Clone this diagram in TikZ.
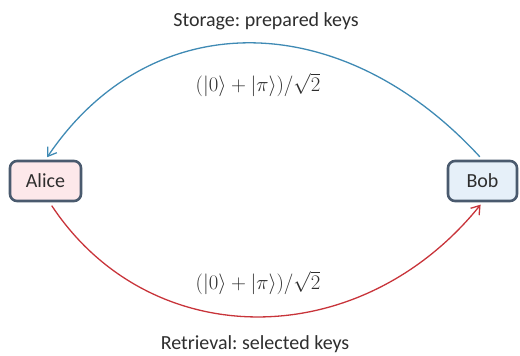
\documentclass[tikz,border=0pt]{standalone}
\usepackage{fontspec}
\setmainfont{Carlito}
\usetikzlibrary{arrows.meta}
\frenchspacing
\definecolor{boxline}{HTML}{4A5A6E}
\definecolor{alicefill}{HTML}{FDE8EA}
\definecolor{bobfill}{HTML}{E6F0F9}
\definecolor{storeblue}{HTML}{3F8AB4}
\definecolor{fetchred}{HTML}{C8343A}
\definecolor{txt}{HTML}{2E2E2E}
\begin{document}
\begin{tikzpicture}[x=1pt,y=-1pt,
  party/.style={draw=boxline, line width=2.6pt, rounded corners=7pt,
    minimum height=40pt, inner xsep=6pt, font=\fontsize{20}{22}\selectfont, text=txt},
  caption/.style={font=\fontsize{20}{22}\selectfont, text=txt},
  state/.style={font=\fontsize{19.5}{22}\selectfont, text=txt},
  link/.style={line width=1.3pt, -{Straight Barb[length=8pt,width=11pt,line width=1.3pt]}}]
\useasboundingbox (0,0) rectangle (520,356);
% the two parties
\node[party, fill=alicefill, minimum width=71pt] (alice) at (45.5,181) {Alice};
\node[party, fill=bobfill, minimum width=69pt] (bob) at (482.5,181) {Bob};
% storage channel, Bob to Alice
\draw[link, storeblue, shorten <=4pt, shorten >=3pt]
  (bob.north) .. controls (340,5) and (150,5) .. (alice.north);
% retrieval channel, Alice to Bob
\draw[link, fetchred, shorten <=4pt, shorten >=3pt]
  ([xshift=4pt]alice.south) .. controls (150,354) and (360,354) .. (bob.south);
% captions and transmitted states
\node[caption] (storetxt) at (266,21) {Storage: prepared keys};
\node[state] (storestate) at (258,85) {$(|0\rangle+|\pi\rangle)/\sqrt{2}$};
\node[state] (fetchstate) at (258,283) {$(|0\rangle+|\pi\rangle)/\sqrt{2}$};
\node[caption] (fetchtxt) at (255,344) {Retrieval: selected keys};
\end{tikzpicture}
\end{document}
